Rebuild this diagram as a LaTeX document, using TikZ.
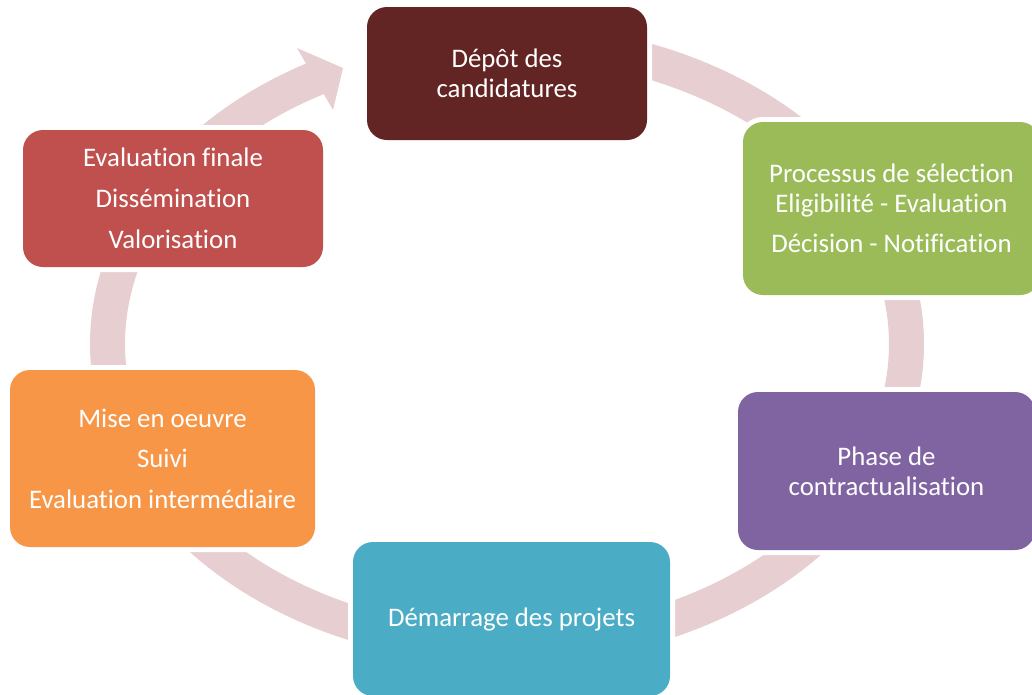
\documentclass[tikz,border=0pt]{standalone}
\usepackage{fontspec}
\setmainfont{Carlito}[Ligatures={NoCommon}]
\definecolor{cTop}{HTML}{632523}
\definecolor{cGreen}{HTML}{9BBB59}
\definecolor{cPurple}{HTML}{8064A2}
\definecolor{cTeal}{HTML}{4BACC6}
\definecolor{cOrange}{HTML}{F79646}
\definecolor{cRed}{HTML}{C0504D}
\definecolor{cBand}{RGB}{231,206,208}
\begin{document}
\begin{tikzpicture}[x=1pt,y=-1pt,
  box/.style={rectangle, rounded corners=20pt, fill=#1,
    preaction={draw=white, line width=10pt},
    text=white, align=center, inner sep=0pt,
    font=\fontsize{26.8}{29.8}\selectfont},
  band/.style={draw=cBand, line width=35pt, line cap=butt}]
\useasboundingbox (0,0) rectangle (1032,694);
\clip (0,0) rectangle (1032,694);
% ring band
\draw[band] plot[domain=265:603, samples=240, smooth] ({507+399.5*cos(\x)},{344+302.5*sin(\x)});
\coordinate (hu) at (297,48);
\coordinate (ht) at (343,68);
\coordinate (hl) at (333,110);
\fill[cBand] (hu) -- (ht) -- (hl) -- cycle;
% boxes
\node[box=cTop, minimum width=280pt, minimum height=133pt] (n1) at (507,73.5) {Dépôt des\\candidatures};
\node[box=cGreen, minimum width=297pt, minimum height=173pt] (n2) at (891.5,208.5) {Processus de sélection\\Eligibilité - Evaluation\\[10pt]Décision - Notification};
\node[box=cPurple, minimum width=297pt, minimum height=158pt] (n3) at (886.5,471) {Phase de\\contractualisation};
\node[box=cTeal, minimum width=317pt, minimum height=154pt] (n4) at (511.5,619) {Démarrage des projets};
\node[box=cOrange, minimum width=305pt, minimum height=177pt] (n5) at (162.5,458.5) {Mise en oeuvre\\[10.7pt]Suivi\\[10.7pt]Evaluation intermédiaire};
\node[box=cRed, minimum width=300pt, minimum height=137pt] (n6) at (173,198.5) {Evaluation finale\\[11.2pt]Dissémination\\[11.2pt]Valorisation};
\end{tikzpicture}
\end{document}
